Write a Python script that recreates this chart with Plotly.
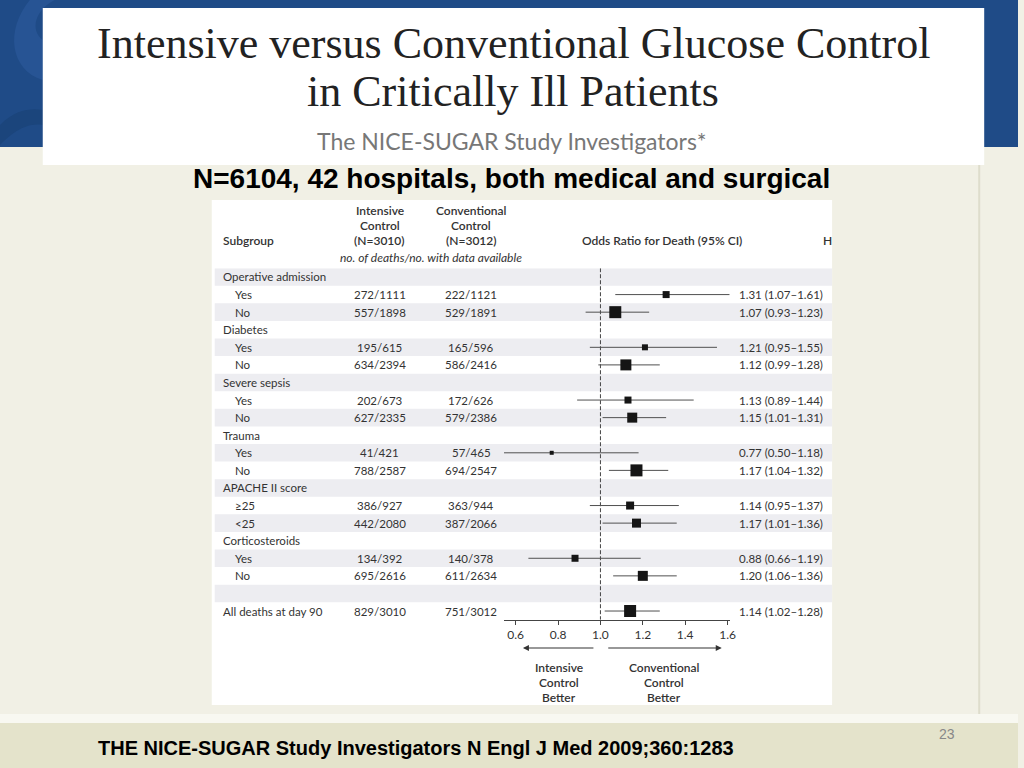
import plotly.graph_objects as go

# ---------------- data ----------------
row_labels = ["Operative admission", "Yes", "No", "Diabetes", "Yes", "No",
              "Severe sepsis", "Yes", "No", "Trauma", "Yes", "No",
              "APACHE II score", "≥25", "<25", "Corticosteroids", "Yes", "No",
              "", "All deaths at day 90"]
row_indent = [0, 1, 1, 0, 1, 1, 0, 1, 1, 0, 1, 1, 0, 1, 1, 0, 1, 1, 0, 0]
intensive = ["", "272/1111", "557/1898", "", "195/615", "634/2394", "", "202/673", "627/2335",
             "", "41/421", "788/2587", "", "386/927", "442/2080", "", "134/392", "695/2616",
             "", "829/3010"]
conventional = ["", "222/1121", "529/1891", "", "165/596", "586/2416", "", "172/626", "579/2386",
                "", "57/465", "694/2547", "", "363/944", "387/2066", "", "140/378", "611/2634",
                "", "751/3012"]
odds_ratio = [None, 1.31, 1.07, None, 1.21, 1.12, None, 1.13, 1.15, None, 0.77, 1.17,
              None, 1.14, 1.17, None, 0.88, 1.20, None, 1.14]
ci_low = [None, 1.07, 0.93, None, 0.95, 0.99, None, 0.89, 1.01, None, 0.50, 1.04,
          None, 0.95, 1.01, None, 0.66, 1.06, None, 1.02]
ci_high = [None, 1.61, 1.23, None, 1.55, 1.28, None, 1.44, 1.31, None, 1.18, 1.32,
           None, 1.37, 1.36, None, 1.19, 1.36, None, 1.28]
box_px = [None, 7, 12, None, 6, 11, None, 7, 10, None, 4, 12, None, 8, 9, None, 7, 10, None, 12]
x_ticks = [0.6, 0.8, 1.0, 1.2, 1.4, 1.6]
x_tick_labels = ["0.6", "0.8", "1.0", "1.2", "1.4", "1.6"]

# ---------------- helpers ----------------
W, H = 1024, 768
def xp(px):
    return px / W
def yp(py):
    return 1 - py / H

TXT = "#333333"
TFONT = "Lato"
BODY = 11.5
n = len(row_labels)

fig = go.Figure()

# CI lines
lx, ly = [], []
for i in range(n):
    if odds_ratio[i] is not None:
        lx += [ci_low[i], ci_high[i], None]
        ly += [i, i, None]
fig.add_trace(go.Scatter(x=lx, y=ly, mode="lines", line=dict(color="#505050", width=1),
                         hoverinfo="skip", showlegend=False))
# boxes
idx = [i for i in range(n) if odds_ratio[i] is not None]
fig.add_trace(go.Scatter(x=[odds_ratio[i] for i in idx], y=idx, mode="markers",
                         marker=dict(symbol="square", size=[box_px[i] for i in idx],
                                     color="#151515", opacity=1, line=dict(width=0)),
                         cliponaxis=False, hoverinfo="skip", showlegend=False))

shapes = []
# blue header band
shapes.append(dict(type="rect", xref="paper", yref="paper", x0=0, x1=1, y0=yp(147), y1=1,
                   fillcolor="#1F4B87", line=dict(width=0), layer="below"))
# faint swirls on header
shapes.append(dict(type="path", xref="paper", yref="paper",
                   path=f"M {xp(30)},{yp(0)} C {xp(5)},{yp(30)} {xp(10)},{yp(70)} {xp(43)},{yp(80)} L {xp(43)},{yp(40)} C {xp(30)},{yp(30)} {xp(35)},{yp(10)} {xp(55)},{yp(0)} Z",
                   fillcolor="#275494", line=dict(width=0), layer="below"))
shapes.append(dict(type="path", xref="paper", yref="paper",
                   path=f"M {xp(0)},{yp(125)} C {xp(15)},{yp(110)} {xp(30)},{yp(108)} {xp(43)},{yp(110)} L {xp(43)},{yp(125)} C {xp(25)},{yp(122)} {xp(10)},{yp(135)} {xp(0)},{yp(145)} Z",
                   fillcolor="#1B457C", line=dict(width=0), layer="below"))
# title white box
shapes.append(dict(type="rect", xref="paper", yref="paper", x0=xp(43), x1=xp(990), y0=yp(165), y1=yp(8),
                   fillcolor="white", line=dict(width=0), layer="below"))
# right vertical rule
shapes.append(dict(type="line", xref="paper", yref="paper", x0=xp(985), x1=xp(985), y0=yp(165), y1=yp(714),
                   line=dict(color="#DEDDCC", width=2), layer="below"))
# figure panel
shapes.append(dict(type="rect", xref="paper", yref="paper", x0=xp(213), x1=xp(837), y0=yp(705), y1=yp(200),
                   fillcolor="white", line=dict(width=0), layer="below"))
# footer
shapes.append(dict(type="rect", xref="paper", yref="paper", x0=0, x1=1, y0=yp(723), y1=yp(714),
                   fillcolor="#F8F8F1", line=dict(width=0), layer="below"))
shapes.append(dict(type="rect", xref="paper", yref="paper", x0=0, x1=1, y0=0, y1=yp(723),
                   fillcolor="#E4E3CB", line=dict(width=0), layer="below"))
# alternating row bands
for i in range(0, n, 2):
    shapes.append(dict(type="rect", xref="paper", yref="y", x0=xp(216), x1=xp(837), y0=i - 0.5, y1=i + 0.5,
                       fillcolor="#EDEDF1", line=dict(width=0), layer="below"))
# reference line at OR = 1
shapes.append(dict(type="line", xref="x", yref="y", x0=1.0, x1=1.0, y0=-0.5, y1=n - 0.5,
                   line=dict(color="#444444", width=1, dash="4px,2px"), layer="below"))

ann = []
def text(x, y, t, size=12, color=TXT, family=TFONT, xanchor="center", weight="normal",
         style="normal", yref="paper"):
    ann.append(dict(x=x, y=y, xref="paper", yref=yref, text=t, showarrow=False,
                    xanchor=xanchor, yanchor="middle",
                    font=dict(size=size, color=color, family=family, weight=weight, style=style)))

# slide titles
text(xp(517), yp(43), "Intensive versus Conventional Glucose Control", size=44, color="#222222",
     family="Liberation Serif")
text(xp(516), yp(92), "in Critically Ill Patients", size=44, color="#222222", family="Liberation Serif")
text(xp(515), yp(141), "The NICE-SUGAR Study Investigators*", size=23, color="#777777", family="Lato")
text(xp(515), yp(178), "N=6104, 42 hospitals, both medical and surgical", size=28, color="#000000",
     family="Liberation Sans", weight="bold")
text(xp(418), yp(748), "THE NICE-SUGAR Study Investigators N Engl J Med 2009;360:1283", size=20,
     color="#000000", family="Liberation Sans", weight="bold")
text(xp(953), yp(734), "23", size=14, color="#888888", family="Liberation Sans")

# table header
for cx, lines in [(382, ["Intensive", "Control", "(N=3010)"]), (474, ["Conventional", "Control", "(N=3012)"])]:
    for py, t in zip([210, 225, 240], lines):
        text(xp(cx), yp(py), t, size=12, weight=600)
text(xp(222), yp(240), "Subgroup", size=12, weight=600, xanchor="left")
text(xp(666), yp(240), "Odds Ratio for Death (95% CI)", size=12, weight=600)
text(xp(832), yp(240), "H", size=12, weight=600)
text(xp(434), yp(257), "no. of deaths/no. with data available", size=12, style="italic")

# table rows
for i in range(n):
    if row_labels[i]:
        text(xp(234 if row_indent[i] else 222), i, row_labels[i], size=BODY, xanchor="left", yref="y")
    if intensive[i]:
        text(xp(382), i, intensive[i], size=BODY, yref="y")
    if conventional[i]:
        text(xp(474), i, conventional[i], size=BODY, yref="y")
    if odds_ratio[i] is not None:
        text(xp(741), i, f"{odds_ratio[i]:.2f} ({ci_low[i]:.2f}\u2013{ci_high[i]:.2f})", size=BODY,
             xanchor="left", yref="y")

# arrows
ann.append(dict(x=xp(526), y=yp(648), xref="paper", yref="paper", ax=72, ay=0, text="",
                showarrow=True, arrowhead=2, arrowsize=1, arrowwidth=1.2, arrowcolor="#333333"))
ann.append(dict(x=xp(726), y=yp(648), xref="paper", yref="paper", ax=-115, ay=0, text="",
                showarrow=True, arrowhead=2, arrowsize=1, arrowwidth=1.2, arrowcolor="#333333"))
for cx, lines in [(562, ["Intensive", "Control", "Better"]), (668, ["Conventional", "Control", "Better"])]:
    for py, t in zip([667, 682, 697], lines):
        text(xp(cx), yp(py), t, size=12, weight=600)

fig.update_layout(
    width=W, height=H, margin=dict(l=0, r=0, t=0, b=0),
    paper_bgcolor="#F1F0E5", plot_bgcolor="rgba(0,0,0,0)",
    shapes=shapes, annotations=ann, showlegend=False,
    xaxis=dict(domain=[xp(507), xp(734)], range=[0.545, 1.61], tickvals=x_ticks, ticktext=x_tick_labels,
               showline=True, linecolor="#444444", linewidth=1, ticks="outside", ticklen=4,
               tickcolor="#444444", showgrid=False, zeroline=False,
               tickfont=dict(family=TFONT, size=12, color=TXT), fixedrange=True),
    yaxis=dict(domain=[yp(277 + 17.58 * (n - 0.5)), yp(277 - 17.58 * 0.5)], range=[n - 0.5, -0.5],
               visible=False, fixedrange=True),
)

fig.write_html("out.html", config={"displayModeBar": False},
               post_script="document.body.style.margin='0';document.body.style.overflow='hidden';")
